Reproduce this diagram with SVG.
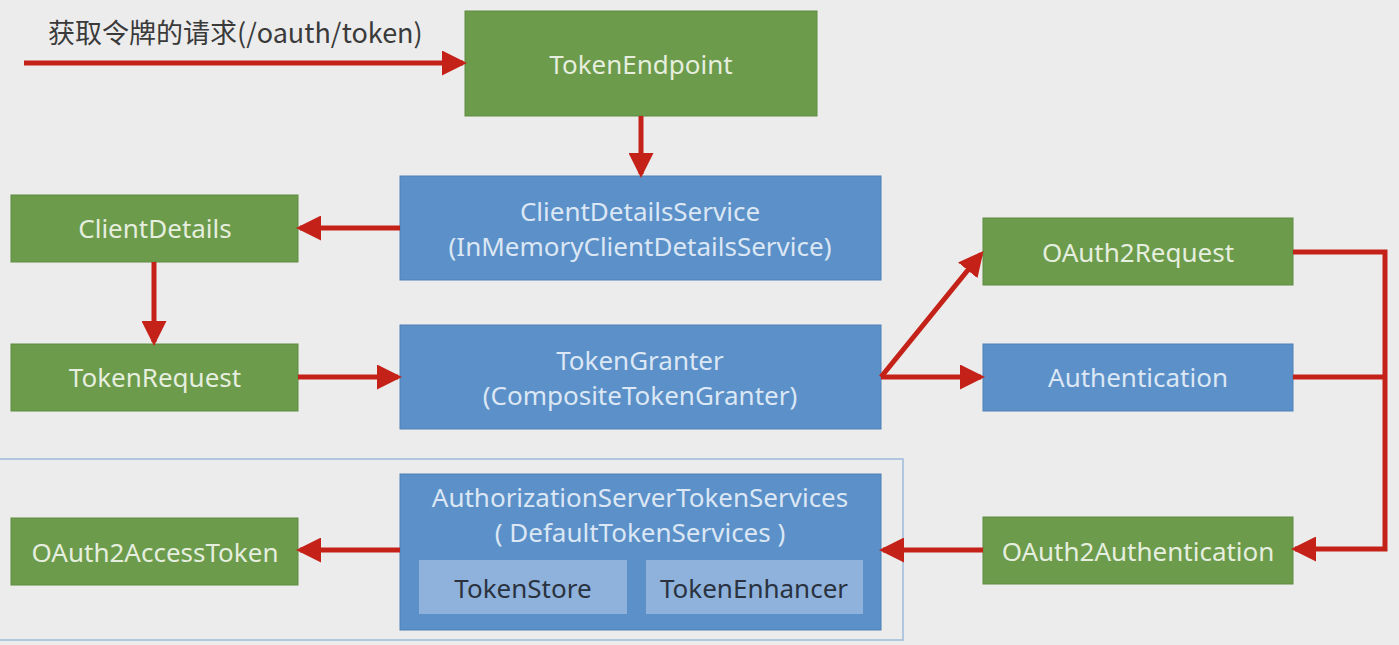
<svg xmlns="http://www.w3.org/2000/svg" width="1399" height="645" viewBox="0 0 1399 645">
<defs>
<marker id="ah" markerWidth="5" markerHeight="5" refX="4.2" refY="2.5" orient="auto" markerUnits="strokeWidth">
<path d="M0,0 L5,2.5 L0,5 Z" fill="#c42218"/>
</marker>
<style>
.g{fill:#6b9b4b;stroke:#5f8c42;stroke-width:1}
.b{fill:#5b90c8;stroke:#4f80b8;stroke-width:1}
.s{fill:#8fb2dc;stroke:none}
.t{font-family:"Noto Sans","Liberation Sans",sans-serif;font-size:26px;fill:#e6eedf;text-anchor:middle}
.tb{font-family:"Noto Sans","Liberation Sans",sans-serif;font-size:26px;fill:#dbe7f4;text-anchor:middle}
.td{font-family:"Noto Sans","Liberation Sans",sans-serif;font-size:26px;fill:#2a3240;text-anchor:middle}
.c{fill:none;stroke:#c42218;stroke-width:5}
</style>
</defs>
<rect width="1399" height="645" fill="#ececec"/>
<text x="48" y="43" font-family="'Noto Sans CJK SC','Noto Sans',sans-serif" font-size="27" fill="#3a3a3a">获取令牌的请求(/oauth/token)</text>
<rect x="-2" y="459" width="905" height="181" fill="none" stroke="#9dbbdc" stroke-width="1.5"/>
<g id="TokenEndpoint"><rect class="g" x="465" y="11" width="352" height="105"/><text class="t" x="641" y="74">TokenEndpoint</text></g>
<g id="ClientDetailsService"><rect class="b" x="400" y="176" width="481" height="104"/><text class="tb" x="640" y="221">ClientDetailsService</text><text class="tb" x="640" y="256">(InMemoryClientDetailsService)</text></g>
<g id="ClientDetails"><rect class="g" x="11" y="195" width="287" height="67"/><text class="t" x="155" y="238">ClientDetails</text></g>
<g id="TokenRequest"><rect class="g" x="11" y="344" width="287" height="67"/><text class="t" x="155" y="387">TokenRequest</text></g>
<g id="TokenGranter"><rect class="b" x="400" y="325" width="481" height="104"/><text class="tb" x="640" y="370">TokenGranter</text><text class="tb" x="640" y="405">(CompositeTokenGranter)</text></g>
<g id="OAuth2Request"><rect class="g" x="983" y="218" width="310" height="67"/><text class="t" x="1138" y="262">OAuth2Request</text></g>
<g id="Authentication"><rect class="b" x="983" y="344" width="310" height="67"/><text class="tb" x="1138" y="387">Authentication</text></g>
<g id="OAuth2Authentication"><rect class="g" x="983" y="517" width="310" height="67"/><text class="t" x="1138" y="561">OAuth2Authentication</text></g>
<g id="OAuth2AccessToken"><rect class="g" x="11" y="518" width="287" height="67"/><text class="t" x="155" y="562">OAuth2AccessToken</text></g>
<g id="AuthorizationServerTokenServices"><rect class="b" x="400" y="474" width="481" height="156"/><text class="tb" x="640" y="507">AuthorizationServerTokenServices</text><text class="tb" x="640" y="542">( DefaultTokenServices )</text>
<g id="TokenStore"><rect class="s" x="419" y="560" width="208" height="54"/><text class="td" x="523" y="598">TokenStore</text></g>
<g id="TokenEnhancer"><rect class="s" x="646" y="560" width="217" height="54"/><text class="td" x="754" y="598">TokenEnhancer</text></g>
</g>
<g id="connectors">
<line class="c" x1="24" y1="63" x2="463" y2="63" marker-end="url(#ah)"/>
<line class="c" x1="641" y1="116" x2="641" y2="174" marker-end="url(#ah)"/>
<line class="c" x1="400" y1="228" x2="300" y2="228" marker-end="url(#ah)"/>
<line class="c" x1="154" y1="262" x2="154" y2="342" marker-end="url(#ah)"/>
<line class="c" x1="298" y1="377" x2="398" y2="377" marker-end="url(#ah)"/>
<line class="c" x1="881" y1="377" x2="981" y2="254" marker-end="url(#ah)"/>
<line class="c" x1="881" y1="377" x2="981" y2="377" marker-end="url(#ah)"/>
<polyline class="c" points="1293,252 1385,252 1385,549 1295,549" marker-end="url(#ah)"/>
<line class="c" x1="1293" y1="377" x2="1385" y2="377"/>
<line class="c" x1="983" y1="550" x2="883" y2="550" marker-end="url(#ah)"/>
<line class="c" x1="400" y1="550" x2="300" y2="550" marker-end="url(#ah)"/>
</g>
</svg>
